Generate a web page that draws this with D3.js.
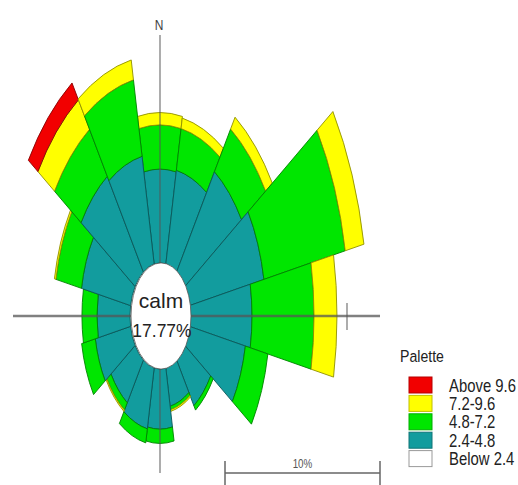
<!DOCTYPE html>
<html>
<head>
<meta charset="utf-8">
<script src="https://cdn.jsdelivr.net/npm/d3@7"></script>
<style>
  html, body { margin: 0; padding: 0; background: #fff; }
  svg { display: block; }
  .narrow { font-family: "Liberation Sans", Arial, sans-serif; }
</style>
</head>
<body>
<svg id="rose" width="518" height="485"></svg>
<script>
// Wind directions, clockwise from north
const directions = ["N","NNE","NE","ENE","E","ESE","SE","SSE","S","SSW","SW","WSW","W","WNW","NW","NNW"];

// Frequency (%) of each wind-speed class per direction
const speed24_48 = [3.42, 3.48, 4.39, 4.90, 4.00, 3.68, 2.00, 1.42, 2.19, 2.26, 1.87, 2.32, 2.13, 3.23, 4.19, 4.00];
const speed48_72 = [1.61, 1.55, 1.87, 5.35, 4.00, 1.48, 0.19, 0.13, 0.52, 0.52, 0.32, 0.90, 0.97, 1.68, 2.06, 2.84];
const speed72_96 = [0.45, 0.39, 0.52, 1.23, 1.48, 0.00, 0.00, 0.06, 0.00, 0.00, 0.06, 0.00, 0.00, 0.10, 1.29, 0.74];
const speedAbove96 = [0, 0, 0, 0, 0, 0, 0, 0, 0, 0, 0, 0, 0, 0, 0.74, 0];

const calmPercent = 17.77;
const scaleBarPercent = 10;

// Legend classes (top to bottom)
const legendLabels = ["Above 9.6", "7.2-9.6", "4.8-7.2", "2.4-4.8", "Below 2.4"];
const legendColors = ["#f20000", "#ffff00", "#00e600", "#129c9e", "#ffffff"];

const seriesList = [speed24_48, speed48_72, speed72_96, speedAbove96];
const seriesColors = ["#129c9e", "#00e600", "#ffff00", "#f20000"];

const svg = d3.select("#rose");
const cx = 160, cy = 316, ky = 1.77;

// Condensed text: draw at the origin of a horizontally squeezed group
function narrowText(parent, x, y, size, fill, str, factor, anchor) {
  return parent.append("g")
    .attr("transform", `translate(${x},${y}) scale(${factor},1)`)
    .append("text")
    .attr("class", "narrow")
    .attr("text-anchor", anchor || "start")
    .attr("font-size", size)
    .attr("fill", fill)
    .text(str);
}

// Radial scale: bars grow outward from the edge of the calm circle
const r = d3.scaleLinear().domain([0, 10]).range([30, 185]);
const angle = d3.scaleBand().domain(directions).range([0, 2 * Math.PI]).paddingInner(0).paddingOuter(0);
const half = angle.bandwidth() / 2;

// stacked segments
const segments = [];
directions.forEach((d, i) => {
  let base = 0;
  seriesList.forEach((s, j) => {
    const v = s[i];
    if (v > 0) {
      segments.push({ dir: d, lo: base, hi: base + v, color: seriesColors[j] });
    }
    base += v;
  });
});

const arc = d3.arc()
  .innerRadius(d => r(d.lo))
  .outerRadius(d => r(d.hi))
  .startAngle(d => angle(d.dir) - half)
  .endAngle(d => angle(d.dir) + half);

const rose = svg.append("g").attr("transform", `translate(${cx},${cy}) scale(1,${ky})`);
rose.selectAll("path.seg")
  .data(segments)
  .join("path")
  .attr("class", "seg")
  .attr("d", arc)
  .attr("fill", d => d.color)
  .attr("stroke", d => d3.color(d.color).darker(1.6))
  .attr("stroke-width", 0.9)
  .attr("vector-effect", "non-scaling-stroke");

// Axes
const axes = svg.append("g").attr("stroke", "#555").attr("stroke-opacity", 0.75);
axes.append("line").attr("x1", cx).attr("x2", cx).attr("y1", 35).attr("y2", 473).attr("stroke-width", 1.3);
axes.append("line").attr("x1", 13).attr("x2", 380).attr("y1", cy).attr("y2", cy).attr("stroke-width", 2.4);
axes.append("line").attr("x1", cx + r(10) + 2).attr("x2", cx + r(10) + 2).attr("y1", cy - 13).attr("y2", cy + 14).attr("stroke-width", 1.3);

// Calm circle
svg.append("ellipse")
  .attr("cx", cx + 1).attr("cy", cy)
  .attr("rx", r(0)).attr("ry", r(0) * ky)
  .attr("fill", "#fff")
  .attr("stroke", "#555").attr("stroke-width", 0.8);

svg.append("text")
  .attr("x", cx + 1).attr("y", 308)
  .attr("text-anchor", "middle")
  .attr("font-family", "Liberation Sans, Arial, sans-serif")
  .attr("font-size", 21).attr("fill", "#222")
  .text("calm");
svg.append("text")
  .attr("x", cx + 2).attr("y", 337)
  .attr("text-anchor", "middle")
  .attr("font-family", "Liberation Sans, Arial, sans-serif")
  .attr("font-size", 17.5).attr("fill", "#222")
  .text(calmPercent.toFixed(2) + "%");

// North label
narrowText(svg, cx - 1, 30, 15, "#444", "N", 0.8, "middle");

// Scale bar
const sbX0 = 225, sbY = 473;
const sbLen = r(scaleBarPercent) - r(0);
const sb = svg.append("g").attr("stroke", "#666").attr("stroke-width", 1.5);
sb.append("line").attr("x1", sbX0).attr("x2", sbX0 + sbLen).attr("y1", sbY).attr("y2", sbY);
sb.append("line").attr("x1", sbX0).attr("x2", sbX0).attr("y1", sbY - 12).attr("y2", sbY + 12);
sb.append("line").attr("x1", sbX0 + sbLen).attr("x2", sbX0 + sbLen).attr("y1", sbY - 12).attr("y2", sbY + 12);
narrowText(svg, sbX0 + sbLen / 2, 468, 12, "#555", scaleBarPercent + "%", 0.82, "middle");

// Legend
const legend = svg.append("g");
narrowText(legend, 400, 362, 17, "#222", "Palette", 0.83);
legendLabels.forEach((label, i) => {
  const y0 = 377 + i * 18.4;
  legend.append("rect")
    .attr("x", 409).attr("y", y0).attr("width", 23).attr("height", 16)
    .attr("fill", legendColors[i])
    .attr("stroke", i === 4 ? "#999" : d3.color(legendColors[i]).darker(0.8))
    .attr("stroke-width", 1);
  narrowText(legend, 449, y0 + 14.5, 17.5, "#222", label, 0.85);
});
</script>
</body>
</html>
